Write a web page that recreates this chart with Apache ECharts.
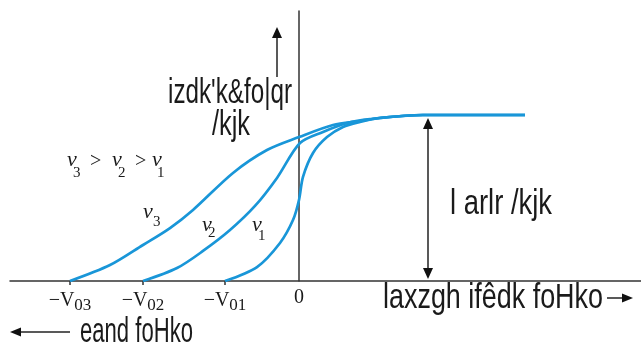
<!DOCTYPE html>
<html>
<head>
<meta charset="utf-8">
<script src="https://cdn.jsdelivr.net/npm/echarts@6/dist/echarts.min.js"></script>
<style>
  html, body { margin: 0; padding: 0; background: #fff; }
  #chart { width: 641px; height: 347px; }
</style>
</head>
<body>
<div id="chart"></div>
<script>
// stopping potentials (-V03, -V02, -V01)
const stopVolts = [-2.29, -1.56, -0.74];
const stopSubs = ['03', '02', '01'];

// photocurrent vs potential, saturation current = 1
const nu1 = [[-0.74, 0], [-0.42, 0.084], [-0.19, 0.229], [-0.06, 0.367], [0, 0.488], [0.04, 0.627],
  [0.14, 0.771], [0.28, 0.867], [0.44, 0.928], [0.61, 0.958], [0.81, 0.982], [1.24, 1.0], [2.26, 1.0]];
const nu2 = [[-1.56, 0], [-1.22, 0.078], [-0.96, 0.181], [-0.69, 0.307], [-0.44, 0.452], [-0.22, 0.621],
  [0.01, 0.831], [0.24, 0.898], [0.48, 0.952], [0.71, 0.976], [1.24, 1.0], [2.26, 1.0]];
const nu3 = [[-2.29, 0], [-1.89, 0.096], [-1.56, 0.217], [-1.29, 0.319], [-1.06, 0.428], [-0.66, 0.651],
  [-0.32, 0.789], [0, 0.867], [0.34, 0.94], [0.61, 0.964], [0.81, 0.982], [1.24, 1.0], [2.26, 1.0]];

const satCurrent = 1.0;
const satArrowV = 1.29;

const blue = '#1996d8';
const ink = '#1a1a1a';
const hindiFont = '35px "Liberation Sans"';

let chart = echarts.init(document.getElementById('chart'));

function curve(name, data) {
  return {
    name: name,
    type: 'line',
    data: data,
    symbol: 'none',
    smooth: 0.3,
    lineStyle: { color: blue, width: 2.7 },
    z: 3
  };
}

let option = {
  backgroundColor: '#fff',
  animation: false,
  grid: { left: 10, right: 0, top: 11, bottom: 66 },
  xAxis: {
    type: 'value',
    min: -2.89,
    max: 3.42,
    axisLine: { lineStyle: { color: '#333', width: 1.5 } },
    axisTick: { show: true, customValues: stopVolts, length: 4, lineStyle: { color: '#333', width: 1.5 } },
    axisLabel: {
      customValues: stopVolts.concat([0]),
      margin: 7,
      formatter: function (v) {
        if (v === 0) return '{m|0}';
        let i = stopVolts.indexOf(v);
        return '{m|\u2212V}{s|' + stopSubs[i] + '}';
      },
      rich: {
        m: { fontFamily: 'Liberation Serif', fontSize: 20, color: ink },
        s: { fontFamily: 'Liberation Serif', fontSize: 17, color: ink, padding: [9, 0, 0, 0] }
      }
    },
    splitLine: { show: false }
  },
  yAxis: {
    type: 'value',
    min: 0,
    max: 1.6265,
    axisLine: { show: true, onZero: true, lineStyle: { color: '#333', width: 1.5 } },
    axisTick: { show: false },
    axisLabel: { show: false },
    splitLine: { show: false }
  },
  series: [curve('v1', nu1), curve('v2', nu2), curve('v3', nu3)]
};

chart.setOption(option);

// measure text so the condensed labels span the same width as in the picture
let measureCtx = document.createElement('canvas').getContext('2d');
function hindi(text, left, midY, width) {
  measureCtx.font = hindiFont;
  let w = measureCtx.measureText(text).width;
  return {
    type: 'text', x: left, y: midY, scaleX: width / w,
    style: { text: text, font: hindiFont, fill: ink, align: 'left', verticalAlign: 'middle',
      textAlign: 'left', textVerticalAlign: 'middle' }
  };
}
function plain(text, left, midY, font) {
  return {
    type: 'text', x: left, y: midY,
    style: { text: text, font: font, fill: ink, align: 'left', verticalAlign: 'middle',
      textAlign: 'left', textVerticalAlign: 'middle' }
  };
}
function nu(left, midY, sub, subLeft, subMid) {
  return [
    plain('\u03bd', left, midY, 'italic 22px "Liberation Serif"'),
    plain(sub, subLeft, subMid, '15px "Liberation Serif"')
  ];
}
function seg(x1, y1, x2, y2) {
  return { type: 'line', shape: { x1: x1, y1: y1, x2: x2, y2: y2 }, style: { stroke: '#222', lineWidth: 1.5 } };
}
function head(tipX, tipY, dir, len, half) {
  let pts;
  if (dir === 'up') pts = [[tipX, tipY], [tipX - half, tipY + len], [tipX + half, tipY + len]];
  if (dir === 'down') pts = [[tipX, tipY], [tipX - half, tipY - len], [tipX + half, tipY - len]];
  if (dir === 'left') pts = [[tipX, tipY], [tipX + len, tipY - half], [tipX + len, tipY + half]];
  if (dir === 'right') pts = [[tipX, tipY], [tipX - len, tipY - half], [tipX - len, tipY + half]];
  return { type: 'polygon', shape: { points: pts }, style: { fill: '#111' } };
}

let satTop = chart.convertToPixel({ gridIndex: 0 }, [satArrowV, satCurrent]);
let satBot = chart.convertToPixel({ gridIndex: 0 }, [satArrowV, 0]);
let ax = Math.round(satTop[0]);
let yTop = satTop[1] + 3;
let yBot = satBot[1] - 2;

let elements = [
  // current axis arrow
  seg(277, 38, 277, 77), head(277, 27, 'up', 11, 5),
  hindi("izdk'k&fo|qr", 168, 93, 124),
  hindi('/kjk', 212, 125, 38),
  // saturation current
  seg(ax, yTop + 10, ax, yBot - 10), head(ax, yTop, 'up', 11, 5), head(ax, yBot, 'down', 11, 5),
  hindi('l arlr /kjk', 450, 204, 102),
  // collector plate potential
  hindi('laxzgh ifêdk foHko', 383, 298, 220),
  seg(607, 298, 624, 298), head(633, 298, 'right', 11, 4.5),
  // retarding potential
  seg(20, 332, 70, 332), head(10, 332, 'left', 11, 4.5),
  hindi('eand foHko', 80, 332, 113),
  // order of frequencies
  plain('>', 90, 162, '20px "Liberation Serif"'),
  plain('>', 135, 162, '20px "Liberation Serif"')
];
elements = elements
  .concat(nu(67, 160, '3', 73, 173))
  .concat(nu(112, 160, '2', 118, 173))
  .concat(nu(152, 160, '1', 157, 173))
  .concat(nu(143, 212, '3', 153, 222))
  .concat(nu(202, 225, '2', 208, 233))
  .concat(nu(252, 225, '1', 258, 236));

chart.setOption({ graphic: { elements: elements } });
</script>
</body>
</html>
